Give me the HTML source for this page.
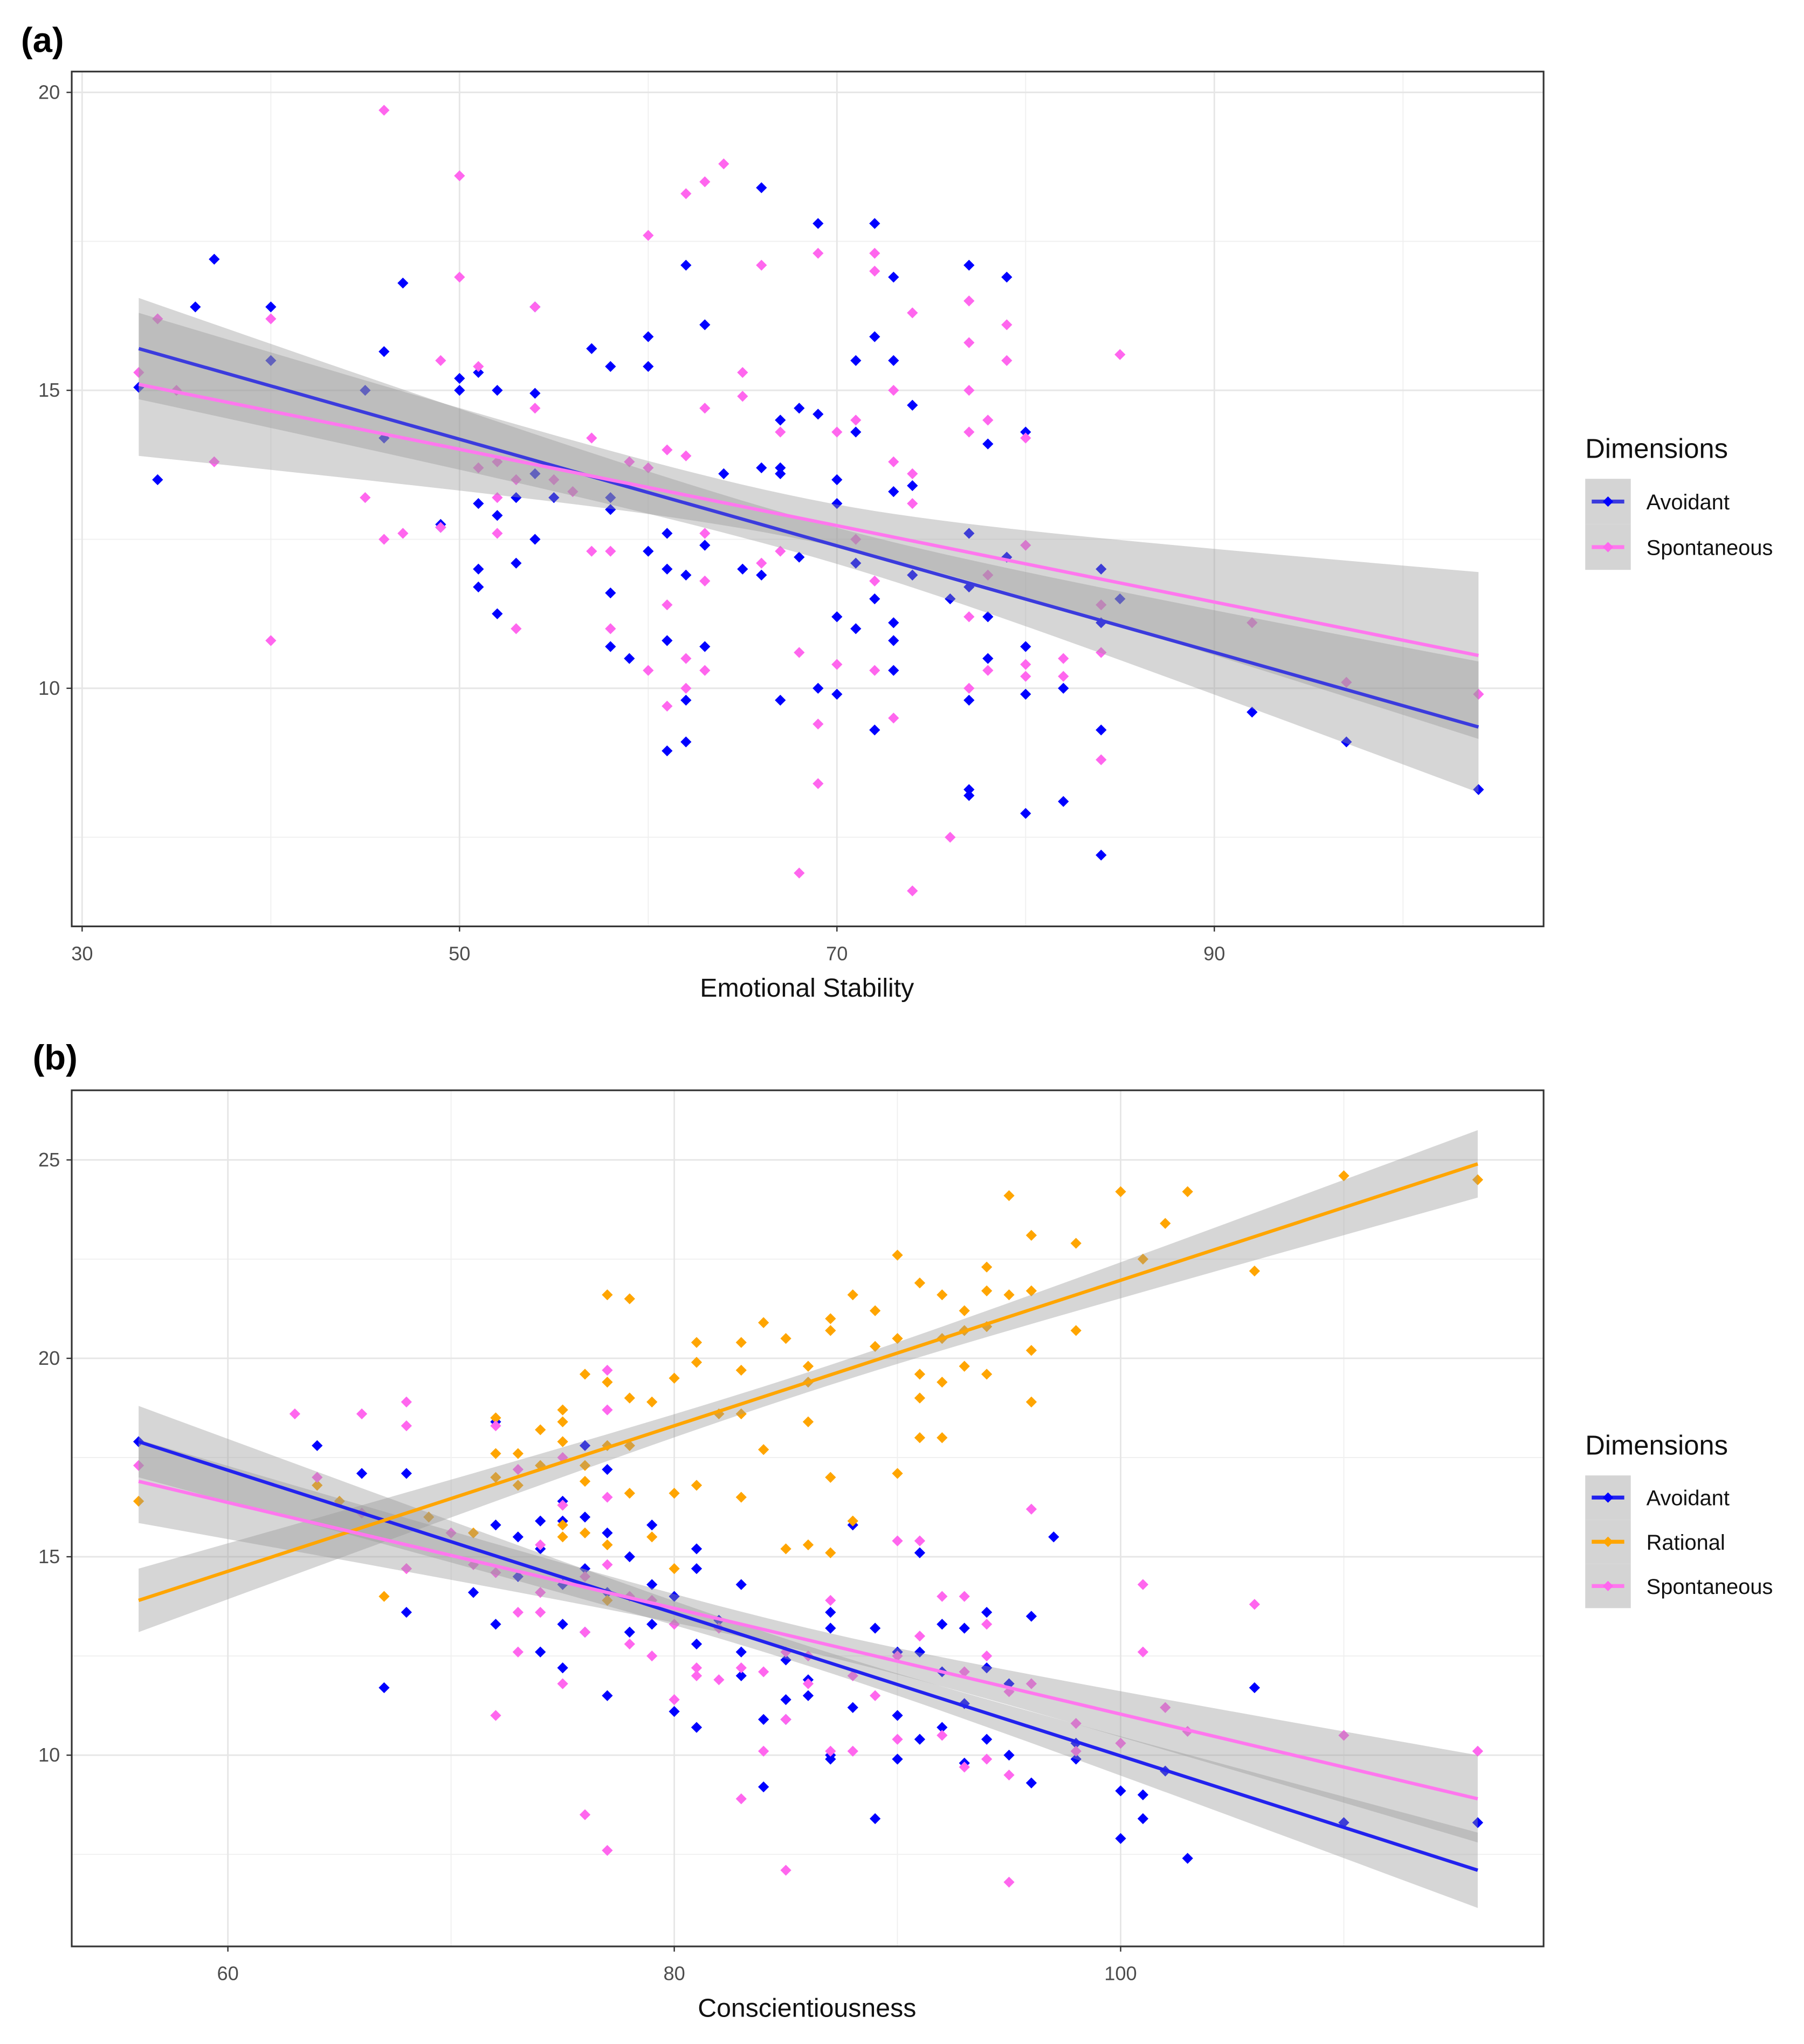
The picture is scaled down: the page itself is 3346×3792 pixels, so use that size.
<!DOCTYPE html>
<html><head><meta charset="utf-8">
<style>
html,body{margin:0;padding:0;background:#fff;}
svg{display:block;font-family:"Liberation Sans",Arial,sans-serif;}
</style></head>
<body>
<svg id="fig" width="3346" height="3792" viewBox="0 0 1386 1571" xmlns="http://www.w3.org/2000/svg">
<rect width="1386" height="1571" fill="#fff"/>
</svg>
<script>
// ===== Panel (a) data =====
const aAvoidX=[33,34,36,37,40,40,45,46,46,47,49,49,50,50,51,51,51,51,52,52,52,53,53,54,54,54,54,55,57,58,58,58,58,58,59,60,60,60,61,61,61,61,62,62,62,62,63,63,63,64,65,66,66,66,67,67,67,67,68,68,69,69,69,70,70,70,70,71,71,71,71,72,72,72,72,73,73,73,73,73,73,74,74,74,76,77,77,77,77,77,77,78,78,78,79,79,80,80,80,80,82,82,84,84,84,84,85,92,97,104];
const aAvoidY=[15.05,13.5,16.4,17.2,16.4,15.5,15,15.65,14.2,16.8,12.7,12.75,15.2,15.0,15.3,13.1,12.0,11.7,15.0,12.9,11.25,13.2,12.1,16.4,14.95,12.5,13.6,13.2,15.7,15.4,13.2,11.6,10.7,13,10.5,15.9,15.4,12.3,12.6,12,10.8,8.95,17.1,11.9,9.8,9.1,16.1,12.4,10.7,13.6,12,18.4,13.7,11.9,14.5,13.7,13.6,9.8,14.7,12.2,17.8,14.6,10,13.5,13.1,11.2,9.9,14.3,15.5,11,12.1,17.8,15.9,11.5,9.3,16.9,15.5,13.3,11.1,10.8,10.3,14.75,13.4,11.9,11.5,17.1,12.6,11.7,9.8,8.3,8.2,14.1,11.2,10.5,16.9,12.2,14.3,10.7,9.9,7.9,10,8.1,12,11.1,9.3,7.2,11.5,9.6,9.1,8.3];
const aSponX=[33,34,35,37,40,40,45,46,46,47,49,49,50,50,51,51,52,52,52,53,53,54,54,55,56,57,57,58,58,59,60,60,60,61,61,61,62,62,62,62,63,63,63,63,63,64,65,65,66,66,67,67,68,68,69,69,69,70,70,71,71,72,72,72,72,73,73,73,74,74,74,74,76,77,77,77,77,77,77,78,78,78,79,79,80,80,80,80,82,82,84,84,84,85,92,97,104];
const aSponY=[15.3,16.2,15,13.8,16.2,10.8,13.2,19.7,12.5,12.6,15.5,12.7,18.6,16.9,15.4,13.7,13.8,13.2,12.6,11,13.5,16.4,14.7,13.5,13.3,14.2,12.3,12.3,11,13.8,17.6,13.7,10.3,14,11.4,9.7,18.3,13.9,10.5,10,18.5,14.7,12.6,11.8,10.3,18.8,15.3,14.9,17.1,12.1,14.3,12.3,10.6,6.9,17.3,9.4,8.4,14.3,10.4,14.5,12.5,17.3,17,11.8,10.3,15,13.8,9.5,16.3,13.6,13.1,6.6,7.5,16.5,15.8,15,14.3,11.2,10,14.5,11.9,10.3,16.1,15.5,14.2,12.4,10.4,10.2,10.5,10.2,11.4,10.6,8.8,15.6,11.1,10.1,9.9];
const aAvoidFit=[33,15.7,104,9.35]; const aAvoidSE=[0.85,0.3,1.1];
const aSponFit=[33,15.1,104,10.55]; const aSponSE=[1.2,0.35,1.4];
const aXTicks=[30,50,70,90]; const aYTicks=[10,15,20];

// ===== Panel (b) data =====
const bRatX=[56,64,65,67,68,69,71,72,72,72,73,73,74,74,75,75,75,75,75,75,76,76,76,76,77,77,77,77,77,78,78,78,78,79,79,80,80,80,81,81,81,82,83,83,83,83,84,84,85,85,86,86,86,86,87,87,87,87,88,88,89,89,90,90,90,91,91,91,91,92,92,92,92,93,93,93,94,94,94,94,95,95,96,96,96,96,98,98,100,101,102,103,106,110,116];
const bRatY=[16.4,16.8,16.4,14,14.7,16,15.6,18.5,17.6,17,17.6,16.8,18.2,17.3,18.7,18.4,17.9,16.3,15.8,15.5,19.6,17.3,16.9,15.6,21.6,19.4,17.8,15.3,13.9,21.5,19,17.8,16.6,18.9,15.5,19.5,16.6,14.7,20.4,19.9,16.8,18.6,20.4,19.7,18.6,16.5,20.9,17.7,20.5,15.2,19.8,19.4,18.4,15.3,21,20.7,17,15.1,21.6,15.9,21.2,20.3,22.6,20.5,17.1,21.9,19.6,19,18,21.6,20.5,19.4,18,21.2,20.7,19.8,22.3,21.7,20.8,19.6,24.1,21.6,23.1,21.7,20.2,18.9,22.9,20.7,24.2,22.5,23.4,24.2,22.2,24.6,24.5];
const bAvoidX=[56,64,66,67,68,68,71,72,72,72,73,73,74,74,74,75,75,75,75,75,76,76,76,76,77,77,77,77,78,78,79,79,79,80,80,81,81,81,81,82,83,83,83,84,84,85,85,85,86,86,87,87,87,87,88,88,89,89,90,90,90,91,91,91,92,92,92,93,93,93,94,94,94,95,95,96,96,97,98,98,100,100,101,101,102,103,106,110,116];
const bAvoidY=[17.9,17.8,17.1,11.7,17.1,13.6,14.1,18.4,15.8,13.3,15.5,14.5,15.9,15.2,12.6,16.4,15.9,14.3,13.3,12.2,17.8,16,14.7,13.1,17.2,15.6,14.1,11.5,15,13.1,15.8,14.3,13.3,14,11.1,15.2,14.7,12.8,10.7,13.4,14.3,12.6,12,10.9,9.2,12.4,11.4,10.9,11.9,11.5,13.6,13.2,10,9.9,15.8,11.2,13.2,8.4,12.6,11,9.9,15.1,12.6,10.4,13.3,12.1,10.7,13.2,11.3,9.8,13.6,12.2,10.4,11.8,10,13.5,9.3,15.5,10.3,9.9,9.1,7.9,9,8.4,9.6,7.4,11.7,8.3,8.3];
const bSponX=[56,63,64,66,66,68,68,68,70,71,72,72,72,73,73,73,74,74,74,75,75,75,76,76,76,77,77,77,77,77,78,78,79,79,80,80,81,81,82,82,83,83,84,84,85,85,85,86,86,87,87,88,88,89,90,90,90,91,91,92,92,93,93,93,94,94,94,95,95,95,96,96,98,98,100,101,101,102,103,106,110,116];
const bSponY=[17.3,18.6,17,18.6,16.1,18.9,18.3,14.7,15.6,14.8,18.3,14.6,11,17.2,13.6,12.6,15.3,14.1,13.6,17.5,16.3,11.8,14.5,13.1,8.5,19.7,18.7,16.5,14.8,7.6,14,12.8,13.9,12.5,13.3,11.4,12.2,12,13.2,11.9,12.2,8.9,12.1,10.1,12.6,10.9,7.1,12.5,11.8,13.9,10.1,12,10.1,11.5,15.4,12.5,10.4,15.4,13,14,10.5,14,12.1,9.7,13.3,12.5,9.9,11.6,9.5,6.8,16.2,11.8,10.8,10.1,10.3,14.3,12.6,11.2,10.6,13.8,10.5,10.1];
const bAvoidFit=[56,17.9,116,7.1]; const bAvoidSE=[0.9,0.25,0.95];
const bRatFit=[56,13.9,116,24.9]; const bRatSE=[0.8,0.25,0.85];
const bSponFit=[56,16.9,116,8.9]; const bSponSE=[1.05,0.3,1.1];
const bXTicks=[60,80,100]; const bYTicks=[10,15,20,25];

const NS='http://www.w3.org/2000/svg';
const svg=document.getElementById('fig');
function mk(tag,attrs,parent){const e=document.createElementNS(NS,tag);for(const k in attrs)e.setAttribute(k,attrs[k]);(parent||svg).appendChild(e);return e;}

function panel(cfg){
  const g=mk('g',{});
  
  
  const L=55,R=1186,T=cfg.top,B=cfg.bottom;
  const sx=v=>cfg.px0+(v-cfg.x0)*cfg.kx;
  const sy=v=>cfg.py0-(v-cfg.y0)*cfg.ky;
  for(const t of cfg.xMinor){mk('line',{x1:sx(t),x2:sx(t),y1:T,y2:B,stroke:'#f0f0f0','stroke-width':0.8},g);}
  for(const t of cfg.yMinor){mk('line',{x1:L,x2:R,y1:sy(t),y2:sy(t),stroke:'#f0f0f0','stroke-width':0.8},g);}
  for(const t of cfg.xt){mk('line',{x1:sx(t),x2:sx(t),y1:T,y2:B,stroke:'#e6e6e6','stroke-width':1.2},g);}
  for(const t of cfg.yt){mk('line',{x1:L,x2:R,y1:sy(t),y2:sy(t),stroke:'#e6e6e6','stroke-width':1.2},g);}
  for(const s of cfg.series){
    for(let i=0;i<s.xs.length;i++){
      const x=sx(s.xs[i]),y=sy(s.ys[i]);
      const p=mk('path',{d:`M${x} ${y-4.2}L${x+4.2} ${y}L${x} ${y+4.2}L${x-4.2} ${y}Z`,fill:s.color},g);
      
      
    }
  }
  for(const s of cfg.series){
    const [x0,y0,x1,y1]=s.fit,[a,c,b]=s.se,xm=(x0+x1)/2;
    const hw=x=>{const t=(x-xm)/((x1-x0)/2);const e=t<0?a:b;return Math.sqrt(c*c+(e*e-c*c)*t*t);};
    const yl=x=>y0+(y1-y0)*(x-x0)/(x1-x0);
    let up=[],dn=[];
    for(let k=0;k<=60;k++){const x=x0+(x1-x0)*k/60;up.push(sx(x)+','+sy(yl(x)+hw(x)));dn.unshift(sx(x)+','+sy(yl(x)-hw(x)));}
    const band=mk('polygon',{points:up.concat(dn).join(' '),fill:'#999999','fill-opacity':0.4},g);
    
    
  }
  for(const s of cfg.series){
    const [x0,y0,x1,y1]=s.fit;
    const ln=mk('line',{x1:sx(x0),y1:sy(y0),x2:sx(x1),y2:sy(y1),stroke:s.line,'stroke-width':2.6},g);
    
    
  }
  mk('rect',{x:L,y:T,width:R-L,height:B-T,fill:'none',stroke:'#333','stroke-width':1.3},g);
  for(const t of cfg.xt){
    mk('line',{x1:sx(t),x2:sx(t),y1:B,y2:B+4,stroke:'#333','stroke-width':1},g);
    const tx=mk('text',{x:sx(t),y:B+26,'text-anchor':'middle','font-size':15,fill:'#4d4d4d'},g);tx.textContent=t;
    
    
  }
  for(const t of cfg.yt){
    mk('line',{x1:L-4,x2:L,y1:sy(t),y2:sy(t),stroke:'#333','stroke-width':1},g);
    const tx=mk('text',{x:L-9,y:sy(t)+5,'text-anchor':'end','font-size':15,fill:'#4d4d4d'},g);tx.textContent=t;
    
    
  }
  const xt=mk('text',{x:620,y:B+54,'text-anchor':'middle','font-size':20,fill:'#111'},g);xt.textContent=cfg.xTitle;
  
  
  const pl=mk('text',{x:cfg.labX,y:cfg.labY,'font-size':27,'font-weight':'bold',fill:'#000'},g);pl.textContent=cfg.label;
  
  
  const lg=mk('g',{},g);
  
  
  const lt=mk('text',{x:1218,y:cfg.legY,'font-size':21,fill:'#111'},lg);lt.textContent='Dimensions';
  
  
  cfg.series.forEach((s,i)=>{
    const y=cfg.legY+16+i*cfg.legStep;
    mk('rect',{x:1218,y:y,width:35,height:cfg.legStep,fill:'#d4d4d4'},lg);
    mk('line',{x1:1223,x2:1248,y1:y+cfg.legStep/2,y2:y+cfg.legStep/2,stroke:s.line,'stroke-width':3},lg);
    mk('path',{d:`M1235.5 ${y+cfg.legStep/2-4}l4 4l-4 4l-4 -4z`,fill:s.color},lg);
    const tx=mk('text',{x:1265,y:y+cfg.legStep/2+6,'font-size':16.5,fill:'#111'},lg);tx.textContent=s.label;
    
    
  });
}

panel({name:'panel-a-emotional-stability',top:55,bottom:712,px0:63,x0:30,kx:14.5,py0:529,y0:10,ky:45.8,
  xt:aXTicks,yt:aYTicks,xMinor:[40,60,80,100],yMinor:[7.5,12.5,17.5],xTitle:'Emotional Stability',label:'(a)',labX:16,labY:40,
  legY:352,legStep:35,
  series:[
    {key:'avoidant',label:'Avoidant',xs:aAvoidX,ys:aAvoidY,fit:aAvoidFit,se:aAvoidSE,color:'#0000ff',line:'#3b3bdd'},
    {key:'spontaneous',label:'Spontaneous',xs:aSponX,ys:aSponY,fit:aSponFit,se:aSponSE,color:'#ff66ee',line:'#ff77ee'}
  ]});
panel({name:'panel-b-conscientiousness',top:838,bottom:1496,px0:175,x0:60,kx:17.15,py0:1349,y0:10,ky:30.5,
  xt:bXTicks,yt:bYTicks,xMinor:[70,90,110],yMinor:[7.5,12.5,17.5,22.5],xTitle:'Conscientiousness',label:'(b)',labX:25,labY:822,
  legY:1118,legStep:34,
  series:[
    {key:'avoidant',label:'Avoidant',xs:bAvoidX,ys:bAvoidY,fit:bAvoidFit,se:bAvoidSE,color:'#0000ff',line:'#2222ee'},
    {key:'rational',label:'Rational',xs:bRatX,ys:bRatY,fit:bRatFit,se:bRatSE,color:'#ffa500',line:'#ffa500'},
    {key:'spontaneous',label:'Spontaneous',xs:bSponX,ys:bSponY,fit:bSponFit,se:bSponSE,color:'#ff66ee',line:'#ff77ee'}
  ]});
</script>
</body></html>
